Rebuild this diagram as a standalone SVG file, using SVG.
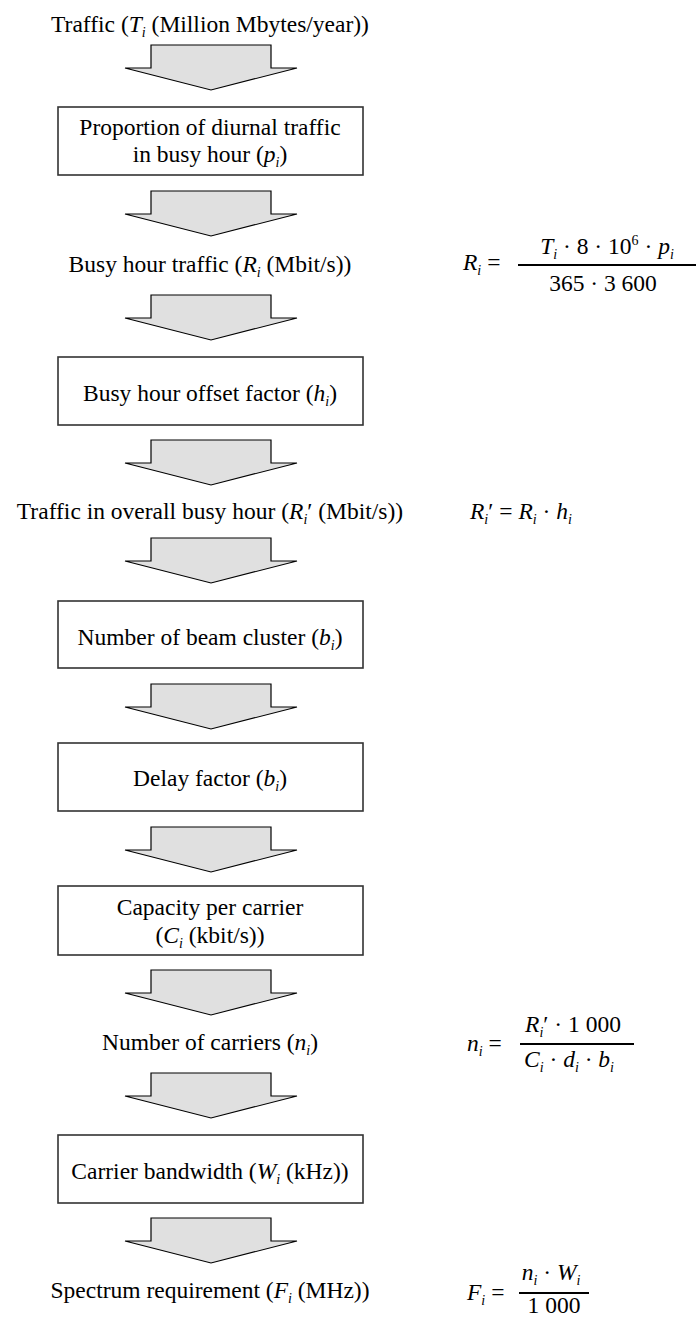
<svg xmlns="http://www.w3.org/2000/svg" width="696" height="1320" viewBox="0 0 696 1320">
<style>
text { font-family: "Liberation Serif", "Times New Roman", serif; font-size: 23.5px; fill: #000; }
.c { text-anchor: middle; }
.it { font-style: italic; }
.sub { font-style: italic; font-size: 14px; }
.sup { font-size: 14px; }
.box { fill: #fff; stroke: #333; stroke-width: 1.6; }
.arrow { fill: #e0e0e0; stroke: #000; stroke-width: 1.2; stroke-linejoin: miter; }
.frac { stroke: #000; stroke-width: 2; }
</style>
<defs>
<path id="arr" class="arrow" d="M -60 0 H 60 V 23 H 86 L 0 45 L -86 23 H -60 Z"/>
</defs>
<rect width="696" height="1320" fill="#fff"/>

<g id="connectors">
<use href="#arr" x="211" y="45"/>
<use href="#arr" x="211" y="191"/>
<use href="#arr" x="211" y="295"/>
<use href="#arr" x="211" y="440"/>
<use href="#arr" x="211" y="538"/>
<use href="#arr" x="211" y="684"/>
<use href="#arr" x="211" y="827"/>
<use href="#arr" x="211" y="970"/>
<use href="#arr" x="211" y="1073"/>
<use href="#arr" x="211" y="1218"/>
</g>

<g id="traffic">
<text class="c" x="210" y="32">Traffic (<tspan class="it">T</tspan><tspan class="sub" dy="5">i</tspan><tspan dy="-5"> (Million Mbytes/year))</tspan></text>
</g>

<g id="proportion">
<rect class="box" x="58" y="107" width="305" height="68"/>
<text class="c" x="210" y="135">Proportion of diurnal traffic</text>
<text class="c" x="210" y="162">in busy hour (<tspan class="it">p</tspan><tspan class="sub" dy="5">i</tspan><tspan dy="-5">)</tspan></text>
</g>

<g id="busy-hour-traffic">
<text class="c" x="210" y="272">Busy hour traffic (<tspan class="it">R</tspan><tspan class="sub" dy="5">i</tspan><tspan dy="-5"> (Mbit/s))</tspan></text>
</g>

<g id="formula-ri">
<text x="463" y="270"><tspan class="it">R</tspan><tspan class="sub" dy="5">i</tspan><tspan dy="-5"> =</tspan></text>
<line class="frac" x1="518" y1="265" x2="696" y2="265"/>
<text class="c" x="607" y="254"><tspan class="it">T</tspan><tspan class="sub" dy="5">i</tspan><tspan dy="-5"> · 8 · 10</tspan><tspan class="sup" dy="-9">6</tspan><tspan dy="9"> · </tspan><tspan class="it">p</tspan><tspan class="sub" dy="5">i</tspan></text>
<text class="c" x="603" y="291">365 · 3 600</text>
</g>

<g id="offset-factor">
<rect class="box" x="58" y="357" width="305" height="68"/>
<text class="c" x="210" y="401">Busy hour offset factor (<tspan class="it">h</tspan><tspan class="sub" dy="5">i</tspan><tspan dy="-5">)</tspan></text>
</g>

<g id="overall-busy-hour">
<text class="c" x="210" y="519">Traffic in overall busy hour (<tspan class="it">R</tspan><tspan class="sub" dy="5">i</tspan><tspan dy="-5">′ (Mbit/s))</tspan></text>
</g>

<g id="formula-ri-prime">
<text x="470" y="519"><tspan class="it">R</tspan><tspan class="sub" dy="5">i</tspan><tspan dy="-5">′ = </tspan><tspan class="it">R</tspan><tspan class="sub" dy="5">i</tspan><tspan dy="-5"> · </tspan><tspan class="it">h</tspan><tspan class="sub" dy="5">i</tspan></text>
</g>

<g id="beam-cluster">
<rect class="box" x="58" y="601" width="305" height="67"/>
<text class="c" x="210" y="645">Number of beam cluster (<tspan class="it">b</tspan><tspan class="sub" dy="5">i</tspan><tspan dy="-5">)</tspan></text>
</g>

<g id="delay-factor">
<rect class="box" x="58" y="743" width="305" height="68"/>
<text class="c" x="210" y="786">Delay factor (<tspan class="it">b</tspan><tspan class="sub" dy="5">i</tspan><tspan dy="-5">)</tspan></text>
</g>

<g id="capacity">
<rect class="box" x="58" y="886" width="305" height="69"/>
<text class="c" x="210" y="915">Capacity per carrier</text>
<text class="c" x="210" y="943">(<tspan class="it">C</tspan><tspan class="sub" dy="5">i</tspan><tspan dy="-5"> (kbit/s))</tspan></text>
</g>

<g id="carriers">
<text class="c" x="210" y="1050">Number of carriers (<tspan class="it">n</tspan><tspan class="sub" dy="5">i</tspan><tspan dy="-5">)</tspan></text>
</g>

<g id="formula-ni">
<text x="467" y="1051"><tspan class="it">n</tspan><tspan class="sub" dy="5">i</tspan><tspan dy="-5"> =</tspan></text>
<line class="frac" x1="520" y1="1044" x2="634" y2="1044"/>
<text class="c" x="573" y="1032"><tspan class="it">R</tspan><tspan class="sub" dy="5">i</tspan><tspan dy="-5">′ · 1 000</tspan></text>
<text class="c" x="569" y="1067"><tspan class="it">C</tspan><tspan class="sub" dy="5">i</tspan><tspan dy="-5"> · </tspan><tspan class="it">d</tspan><tspan class="sub" dy="5">i</tspan><tspan dy="-5"> · </tspan><tspan class="it">b</tspan><tspan class="sub" dy="5">i</tspan></text>
</g>

<g id="bandwidth">
<rect class="box" x="58" y="1135" width="305" height="68"/>
<text class="c" x="210" y="1179">Carrier bandwidth (<tspan class="it">W</tspan><tspan class="sub" dy="5">i</tspan><tspan dy="-5"> (kHz))</tspan></text>
</g>

<g id="spectrum">
<text class="c" x="210" y="1298">Spectrum requirement (<tspan class="it">F</tspan><tspan class="sub" dy="5">i</tspan><tspan dy="-5"> (MHz))</tspan></text>
</g>

<g id="formula-fi">
<text x="467" y="1300"><tspan class="it">F</tspan><tspan class="sub" dy="5">i</tspan><tspan dy="-5"> =</tspan></text>
<line class="frac" x1="519" y1="1293" x2="589" y2="1293"/>
<text class="c" x="551" y="1280"><tspan class="it">n</tspan><tspan class="sub" dy="5">i</tspan><tspan dy="-5"> · </tspan><tspan class="it">W</tspan><tspan class="sub" dy="5">i</tspan></text>
<text class="c" x="554" y="1313">1 000</text>
</g>
</svg>
